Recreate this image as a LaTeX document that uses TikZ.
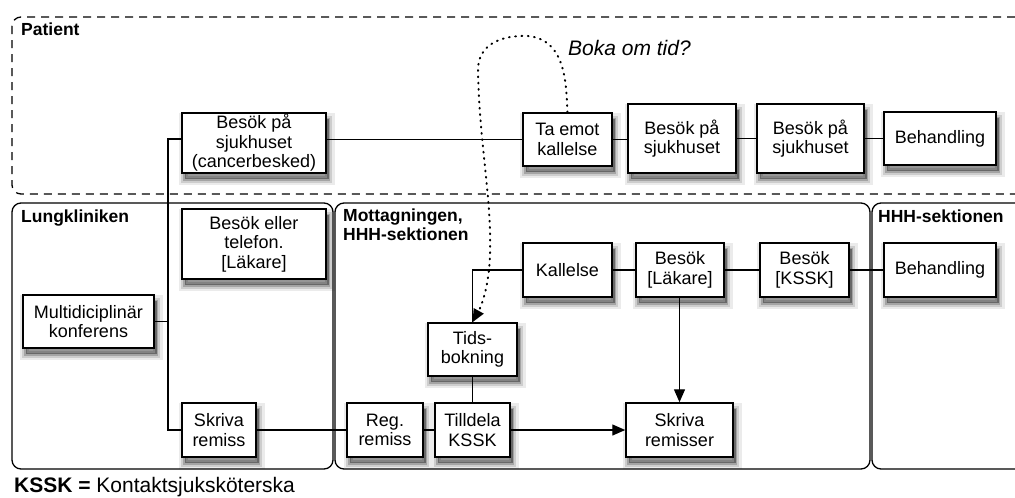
\documentclass[tikz,border=0pt]{standalone}
\usepackage{fontspec}
\setmainfont{Liberation Sans}
\usetikzlibrary{arrows.meta,calc}
\begin{document}
\begin{tikzpicture}[x=1pt,y=-1pt,
  % soft drop shadow built from stacked translucent copies of the node outline
  softshadow/.style={
    preaction={fill=black, fill opacity=0.36, transform canvas={shift={(2.5pt,-6pt)}}},
    preaction={draw=black, draw opacity=0.20, line width=3pt, transform canvas={shift={(2.5pt,-6pt)}}},
    preaction={draw=black, draw opacity=0.13, line width=7pt, transform canvas={shift={(2.5pt,-6pt)}}},
    preaction={draw=black, draw opacity=0.08, line width=12pt, transform canvas={shift={(2.5pt,-6pt)}}}},
  box/.style={softshadow, draw, line width=1.5pt, fill=white, align=center, inner sep=1pt,
    font=\fontsize{18}{19.5}\selectfont},
  lane/.style={draw, line width=1.3pt, rounded corners=9pt},
  plane/.style={draw, line width=1.3pt, rounded corners=9pt, dash pattern=on 8pt off 6pt},
  lanelabel/.style={anchor=base west, inner sep=0pt, align=left, font=\fontsize{17.5}{19}\selectfont\bfseries},
  link/.style={line width=1.3pt},
  arr/.style={line width=1.4pt, -{Triangle[length=13pt,width=11pt]}},
  dots/.style={line width=2pt, line cap=round, dash pattern=on 0.8pt off 5.5pt, -{Triangle[length=13pt,width=11pt]}}
]
\useasboundingbox (0,0) rectangle (1015,498);
\clip (0,0) rectangle (1015,498);

% swimlanes
\draw[plane] (12,17) rectangle (1040,194);
\draw[lane] (12,203) rectangle (333,469);
\draw[lane] (335,203) rectangle (870,469);
\draw[lane] (872,203) rectangle (1040,469);

\node[lanelabel] (lpat) at (21,35) {Patient};
\node[lanelabel] (llung) at (21,222) {Lungkliniken};
\node[lanelabel] (lmott) at (343,240) {Mottagningen,\\HHH-sektionen};
\node[lanelabel] (lhhh) at (878,222) {HHH-sektionen};

% patient lane
\node[box, minimum width=144, minimum height=60] (besok1) at (254,143) {Besök på\\sjukhuset\\(cancerbesked)};
\node[box, minimum width=89, minimum height=53] (tae) at (567.5,139.5) {Ta emot\\kallelse};
\node[box, minimum width=108, minimum height=69] (besok2) at (682,138.5) {Besök på\\sjukhuset};
\node[box, minimum width=107, minimum height=69] (besok3) at (810.5,138.5) {Besök på\\sjukhuset};
\node[box, minimum width=112, minimum height=53] (beh1) at (940,138.5) {Behandling};

% Lungkliniken
\node[box, minimum width=144, minimum height=70] (telefon) at (254,244) {Besök eller\\telefon.\\{[Läkare]}};
\node[box, minimum width=131, minimum height=53] (multi) at (88.5,321.5) {Multidiciplinär\\konferens};
\node[box, minimum width=74, minimum height=54] (skriva) at (219,430) {Skriva\\remiss};

% Mottagningen
\node[box, minimum width=76, minimum height=54] (reg) at (385,430) {Reg.\\remiss};
\node[box, minimum width=75, minimum height=54] (tilldela) at (472.5,430) {Tilldela\\KSSK};
\node[box, minimum width=89, minimum height=53] (tids) at (472.5,349.5) {Tids-\\bokning};
\node[box, minimum width=89, minimum height=54] (kallelse) at (567.5,270) {Kallelse};
\node[box, minimum width=88, minimum height=54] (lakare) at (680,270) {Besök\\{[Läkare]}};
\node[box, minimum width=89, minimum height=54] (kssk) at (804.5,270) {Besök\\{[KSSK]}};
\node[box, minimum width=107, minimum height=54] (remisser) at (679.5,430) {Skriva\\remisser};

% HHH-sektionen
\node[box, minimum width=112, minimum height=54] (beh2) at (940,270) {Behandling};

% connectors
\coordinate (jt) at (168,139);
\coordinate (jb) at (168,430);
\draw[link] (besok1.west |- jt) -- (jt) -- (jb) -- (skriva.west);
\draw[link] (multi.east) -- (multi.east -| jt);
\draw[link] (besok1.east |- tae.west) -- (tae.west);
\draw[link] (tae.east) -- (tae.east -| besok2.west);
\draw[link] (besok2.east) -- (besok3.west);
\draw[link] (besok3.east) -- (besok3.east -| beh1.west);
\draw[link] (skriva.east) -- (reg.west);
\draw[link] (reg.east) -- (tilldela.west);
\draw[arr] (tilldela.east) -- (remisser.west);
\draw[link] (tids.south) -- (tilldela.north);
\draw[link] (kallelse.west) -| (tids.north);
\draw[link] (kallelse.east) -- (lakare.west);
\draw[link] (lakare.east) -- (kssk.west);
\draw[link] (kssk.east) -- (beh2.west);
\draw[arr] (lakare.south -| remisser.north) -- (remisser.north);

% rebooking loop
\draw[dots] (tae.north) .. controls (566,80) and (565,40) .. (528,36)
  .. controls (500,35) and (478,45) .. (478,70)
  .. controls (479,140) and (492,200) .. (490,255)
  .. controls (489,285) and (482,305) .. (tids.north);
\node[anchor=base west, inner sep=0pt, font=\fontsize{21}{24}\selectfont\itshape] (boka) at (568,55) {Boka om tid?};

% legend
\node[anchor=base west, inner sep=0pt, font=\fontsize{21}{24}\selectfont] (legend) at (14,492) {\textbf{KSSK =} Kontaktsjuksköterska};
\end{tikzpicture}
\end{document}
